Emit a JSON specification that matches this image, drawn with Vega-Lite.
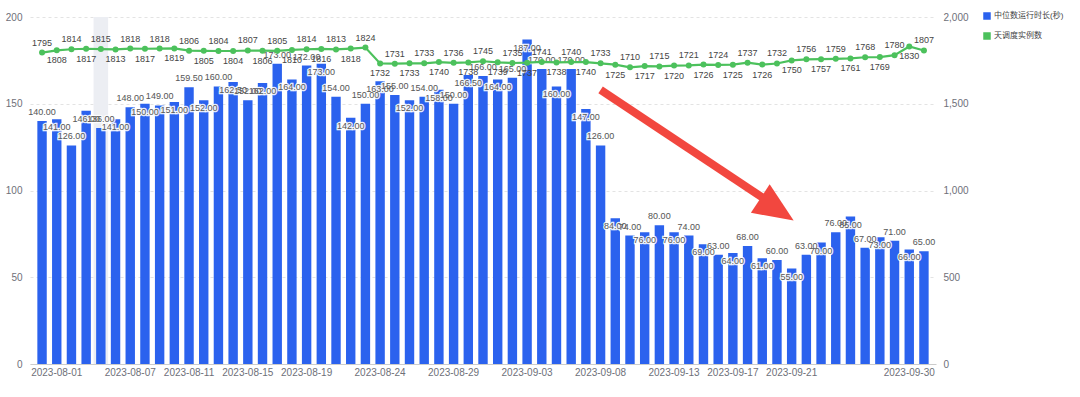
{
  "$schema": "https://vega.github.io/schema/vega-lite/v6.json",
  "autosize": "none",
  "width": 906,
  "height": 347,
  "padding": {"left": 30, "top": 17, "right": 144, "bottom": 33},
  "background": "white",
  "config": {
    "font": "Liberation Sans, Noto Sans CJK SC, sans-serif",
    "view": {"stroke": null}
  },
  "datasets": {
    "arrow": [
      {"from": "2023-09-08", "to": "2023-09-19", "v1": 158, "v2": 96, "head": "2023-09-20", "hv": 89}
    ]
  },
  "data": {
    "values": [
      {"date": "2023-07-31", "median": 140, "count": 1795},
      {"date": "2023-08-01", "median": 141, "count": 1808},
      {"date": "2023-08-02", "median": 126, "count": 1814},
      {"date": "2023-08-03", "median": 146, "count": 1817},
      {"date": "2023-08-05", "median": 136, "count": 1815},
      {"date": "2023-08-06", "median": 141, "count": 1813},
      {"date": "2023-08-07", "median": 148, "count": 1818},
      {"date": "2023-08-08", "median": 150, "count": 1817},
      {"date": "2023-08-09", "median": 149, "count": 1818},
      {"date": "2023-08-10", "median": 151, "count": 1819},
      {"date": "2023-08-11", "median": 159.5, "count": 1806},
      {"date": "2023-08-12", "median": 152, "count": 1805},
      {"date": "2023-08-13", "median": 160, "count": 1804},
      {"date": "2023-08-14", "median": 162.5, "count": 1804},
      {"date": "2023-08-15", "median": 152, "count": 1807},
      {"date": "2023-08-16", "median": 162, "count": 1806},
      {"date": "2023-08-17", "median": 173, "count": 1805},
      {"date": "2023-08-18", "median": 164, "count": 1810},
      {"date": "2023-08-19", "median": 172, "count": 1814},
      {"date": "2023-08-20", "median": 173, "count": 1816},
      {"date": "2023-08-21", "median": 154, "count": 1813},
      {"date": "2023-08-22", "median": 142, "count": 1818},
      {"date": "2023-08-23", "median": 150, "count": 1824},
      {"date": "2023-08-24", "median": 163, "count": 1732},
      {"date": "2023-08-25", "median": 155, "count": 1731},
      {"date": "2023-08-26", "median": 152, "count": 1733},
      {"date": "2023-08-27", "median": 154, "count": 1733},
      {"date": "2023-08-28", "median": 158, "count": 1740},
      {"date": "2023-08-29", "median": 150, "count": 1736},
      {"date": "2023-08-30", "median": 166.5, "count": 1738},
      {"date": "2023-08-31", "median": 166, "count": 1745},
      {"date": "2023-09-01", "median": 164, "count": 1739},
      {"date": "2023-09-02", "median": 165, "count": 1735},
      {"date": "2023-09-03", "median": 187, "count": 1737},
      {"date": "2023-09-04", "median": 170, "count": 1741},
      {"date": "2023-09-05", "median": 160, "count": 1738},
      {"date": "2023-09-06", "median": 170, "count": 1740},
      {"date": "2023-09-07", "median": 147, "count": 1740},
      {"date": "2023-09-08", "median": 126, "count": 1733},
      {"date": "2023-09-09", "median": 84, "count": 1725},
      {"date": "2023-09-10", "median": 74, "count": 1710},
      {"date": "2023-09-11", "median": 76, "count": 1717},
      {"date": "2023-09-12", "median": 80, "count": 1715},
      {"date": "2023-09-13", "median": 76, "count": 1720},
      {"date": "2023-09-14", "median": 74, "count": 1721},
      {"date": "2023-09-15", "median": 69, "count": 1726},
      {"date": "2023-09-16", "median": 63, "count": 1724},
      {"date": "2023-09-17", "median": 64, "count": 1725},
      {"date": "2023-09-18", "median": 68, "count": 1737},
      {"date": "2023-09-19", "median": 61, "count": 1726},
      {"date": "2023-09-20", "median": 60, "count": 1732},
      {"date": "2023-09-21", "median": 55, "count": 1750},
      {"date": "2023-09-22", "median": 63, "count": 1756},
      {"date": "2023-09-23", "median": 70, "count": 1757},
      {"date": "2023-09-25", "median": 76, "count": 1759},
      {"date": "2023-09-26", "median": 85, "count": 1761},
      {"date": "2023-09-27", "median": 67, "count": 1768},
      {"date": "2023-09-28", "median": 73, "count": 1769},
      {"date": "2023-09-29", "median": 71, "count": 1780},
      {"date": "2023-09-30", "median": 66, "count": 1830},
      {"date": "2023-10-01", "median": 65, "count": 1807}
    ]
  },
  "encoding": {
    "x": {
      "field": "date",
      "type": "ordinal",
      "sort": "ascending",
      "scale": {"paddingInner": 0.36, "paddingOuter": 0.5},
      "axis": {
        "title": null,
        "values": ["2023-08-01", "2023-08-07", "2023-08-11", "2023-08-15", "2023-08-19", "2023-08-24", "2023-08-29", "2023-09-03", "2023-09-08", "2023-09-13", "2023-09-17", "2023-09-21", "2023-09-30"],
        "labelAngle": 0,
        "ticks": false,
        "domainColor": "#cccccc",
        "labelColor": "#6e7079",
        "labelFontSize": 10,
        "labelPadding": 3
      }
    }
  },
  "layer": [
    {
      "layer": [
        {
          "transform": [{"filter": "datum.date == '2023-08-05'"}],
          "mark": {"type": "bar", "color": "#eceef3", "width": {"band": 1.55}},
          "encoding": {
            "y": {"datum": 200, "type": "quantitative"}
          }
        },
        {
          "mark": {"type": "bar"},
          "encoding": {
            "y": {
              "field": "median",
              "type": "quantitative",
              "scale": {"domain": [0, 200]},
              "axis": {
                "title": null,
                "values": [0, 50, 100, 150, 200],
                "domain": false,
                "ticks": false,
                "grid": true,
                "gridDash": [3, 3],
                "gridColor": "#e3e3e3",
                "labelColor": "#6e7079",
                "labelFontSize": 10,
                "labelPadding": 8
              }
            },
            "color": {
              "datum": "中位数运行时长(秒)",
              "scale": {"domain": ["中位数运行时长(秒)", "天调度实例数"], "range": ["#2b62ee", "#4cc15c"]},
              "legend": {
                "title": null,
                "orient": "none",
                "legendX": 953,
                "legendY": -5,
                "symbolType": "square",
                "symbolSize": 36,
                "labelFontSize": 8,
                "labelColor": "#444444",
                "rowPadding": 8,
                "labelOffset": 3
              }
            }
          }
        },
        {
          "transform": [{"window": [{"op": "row_number", "as": "rn"}]}, {"filter": "datum.rn % 2 == 1"}],
          "mark": {"type": "text", "fontSize": 9, "dy": -9, "baseline": "middle", "fill": "#5a5a5a", "stroke": "white", "strokeWidth": 2.5, "strokeOpacity": 0.9},
          "encoding": {
            "y": {"field": "median", "type": "quantitative"},
            "text": {"field": "median", "type": "quantitative", "format": ".2f"}
          }
        },
        {
          "transform": [{"window": [{"op": "row_number", "as": "rn"}]}, {"filter": "datum.rn % 2 == 0"}],
          "mark": {"type": "text", "fontSize": 9, "dy": 8, "baseline": "middle", "fill": "#5a5a5a", "stroke": "white", "strokeWidth": 2.5, "strokeOpacity": 0.9},
          "encoding": {
            "y": {"field": "median", "type": "quantitative"},
            "text": {"field": "median", "type": "quantitative", "format": ".2f"}
          }
        },
        {
          "transform": [{"window": [{"op": "row_number", "as": "rn"}]}, {"filter": "datum.rn % 2 == 0"}],
          "mark": {"type": "text", "fontSize": 9, "dy": 8, "baseline": "middle", "fill": "#5a5a5a"},
          "encoding": {
            "y": {"field": "median", "type": "quantitative"},
            "text": {"field": "median", "type": "quantitative", "format": ".2f"}
          }
        },
        {
          "transform": [{"window": [{"op": "row_number", "as": "rn"}]}, {"filter": "datum.rn % 2 == 1"}],
          "mark": {"type": "text", "fontSize": 9, "dy": -9, "baseline": "middle", "fill": "#5a5a5a"},
          "encoding": {
            "y": {"field": "median", "type": "quantitative"},
            "text": {"field": "median", "type": "quantitative", "format": ".2f"}
          }
        },
        {
          "data": {"name": "arrow"},
          "mark": {"type": "rule", "color": "#f2473f", "strokeWidth": 8},
          "encoding": {
            "x": {"field": "from", "type": "ordinal", "bandPosition": 0.5},
            "x2": {"field": "to", "bandPosition": 0.5},
            "y": {"field": "v1", "type": "quantitative"},
            "y2": {"field": "v2"}
          }
        },
        {
          "data": {"name": "arrow"},
          "mark": {"type": "point", "shape": "M 1 0 L -1 -0.85 L -1 0.85 Z", "filled": true, "color": "#f2473f", "opacity": 1, "size": 1600, "angle": 33.5, "strokeWidth": 0},
          "encoding": {
            "x": {"field": "head", "type": "ordinal"},
            "y": {"field": "hv", "type": "quantitative"}
          }
        }
      ]
    },
    {
      "layer": [
        {
          "mark": {"type": "line", "strokeWidth": 2.2, "point": {"filled": true, "size": 36}},
          "encoding": {
            "y": {
              "field": "count",
              "type": "quantitative",
              "scale": {"domain": [0, 2000]},
              "axis": {
                "title": null,
                "orient": "right",
                "values": [0, 500, 1000, 1500, 2000],
                "format": ",.0f",
                "domain": false,
                "ticks": false,
                "grid": false,
                "labelColor": "#6e7079",
                "labelFontSize": 10,
                "labelPadding": 7
              }
            },
            "color": {"datum": "天调度实例数"}
          }
        },
        {
          "transform": [{"window": [{"op": "row_number", "as": "rn"}]}, {"filter": "datum.rn % 2 == 1"}],
          "mark": {"type": "text", "fontSize": 9, "dy": -10, "baseline": "middle", "fill": "#444444"},
          "encoding": {
            "y": {"field": "count", "type": "quantitative"},
            "text": {"field": "count", "type": "quantitative"}
          }
        },
        {
          "transform": [{"window": [{"op": "row_number", "as": "rn"}]}, {"filter": "datum.rn % 2 == 0"}],
          "mark": {"type": "text", "fontSize": 9, "dy": 10, "baseline": "middle", "fill": "#444444"},
          "encoding": {
            "y": {"field": "count", "type": "quantitative"},
            "text": {"field": "count", "type": "quantitative"}
          }
        }
      ]
    }
  ],
  "resolve": {"scale": {"y": "independent"}}
}
